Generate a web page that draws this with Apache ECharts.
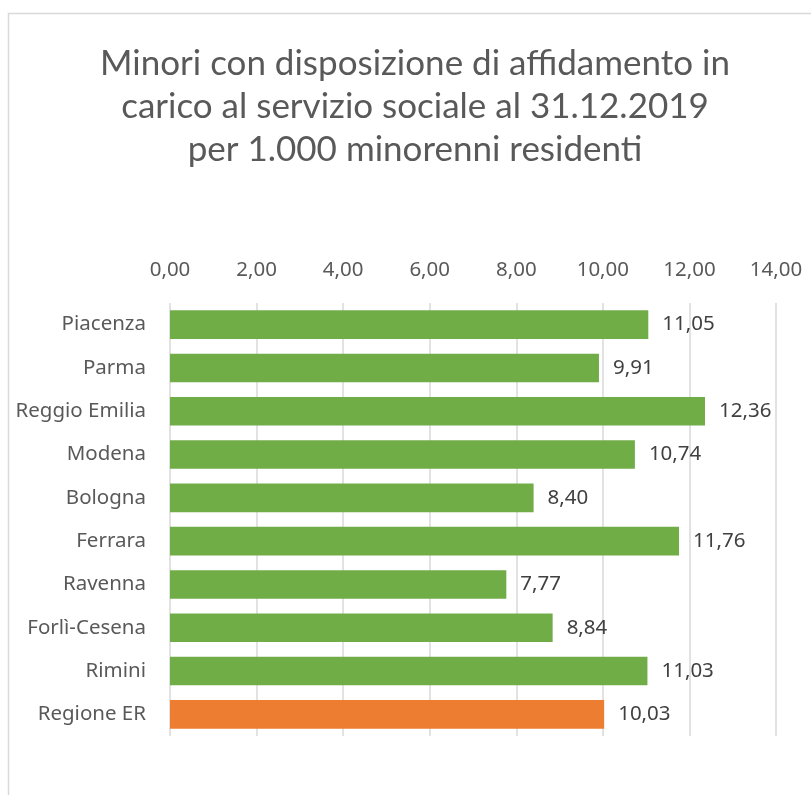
<!DOCTYPE html>
<html>
<head>
<meta charset="utf-8">
<script src="https://cdn.jsdelivr.net/npm/echarts@6/dist/echarts.min.js"></script>
<style>
  html, body { margin: 0; padding: 0; background: #fff; }
  #chart { width: 811px; height: 795px; }
</style>
</head>
<body>
<div id="chart"></div>
<script>
  // data
  var categories = ['Piacenza', 'Parma', 'Reggio Emilia', 'Modena', 'Bologna', 'Ferrara', 'Ravenna', 'Forlì-Cesena', 'Rimini', 'Regione ER'];
  var values = [11.05, 9.91, 12.36, 10.74, 8.40, 11.76, 7.77, 8.84, 11.03, 10.03];
  var barColors = ['#70AD47', '#70AD47', '#70AD47', '#70AD47', '#70AD47', '#70AD47', '#70AD47', '#70AD47', '#70AD47', '#ED7D31'];
  var axisMin = 0, axisMax = 14, axisStep = 2;

  function fmt(v) {
    return Number(v).toFixed(2).replace('.', ',');
  }

  var chart = echarts.init(document.getElementById('chart'));
  var titleFont = 'Lato';
  var font = 'Noto Sans';

  var option = {
    backgroundColor: '#fff',
    animation: false,
    title: {
      text: 'Minori con disposizione di affidamento in\ncarico al servizio sociale al 31.12.2019\nper 1.000 minorenni residenti',
      left: 410,
      top: 37,
      textAlign: 'center',
      textStyle: {
        fontFamily: titleFont,
        fontSize: 35,
        fontWeight: 'normal',
        color: '#595959',
        lineHeight: 43
      }
    },
    graphic: [{
      type: 'rect',
      shape: { x: 8.5, y: 13.5, width: 900, height: 900 },
      style: { fill: 'none', stroke: '#d9d9d9', lineWidth: 1.5 },
      silent: true
    }],
    grid: {
      left: 170,
      right: 35,
      top: 303,
      bottom: 59
    },
    xAxis: {
      type: 'value',
      position: 'top',
      min: axisMin,
      max: axisMax,
      interval: axisStep,
      axisLine: { show: false },
      axisTick: { show: false },
      splitLine: { show: true, lineStyle: { color: '#d9d9d9', width: 1.5 } },
      axisLabel: {
        formatter: fmt,
        margin: 22,
        fontFamily: font,
        fontSize: 20.5,
        color: '#595959'
      }
    },
    yAxis: {
      type: 'category',
      inverse: true,
      data: categories,
      axisLine: { show: false },
      axisTick: { show: false },
      axisLabel: {
        margin: 24,
        fontFamily: font,
        fontSize: 20.5,
        color: '#595959'
      }
    },
    series: [{
      type: 'bar',
      barCategoryGap: '34%',
      data: values.map(function (v, i) {
        return { value: v, itemStyle: { color: barColors[i] } };
      }),
      label: {
        show: true,
        position: 'right',
        distance: 14,
        formatter: function (p) { return fmt(p.value); },
        fontFamily: font,
        fontSize: 20.5,
        color: '#404040'
      }
    }]
  };

  chart.setOption(option);
</script>
</body>
</html>
